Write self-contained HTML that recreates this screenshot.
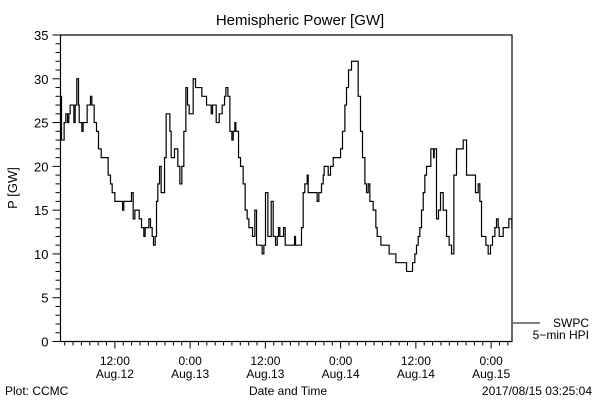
<!DOCTYPE html>
<html><head><meta charset="utf-8"><style>
body{margin:0;background:#fff}
svg text{font-family:"Liberation Sans",sans-serif;fill:#000}
</style></head><body>
<svg id="c" width="600" height="400" xmlns="http://www.w3.org/2000/svg">
<rect width="600" height="400" fill="#fff"/>
<text x="300" y="25" font-size="15" text-anchor="middle">Hemispheric Power [GW]</text>
<text x="17" y="188" font-size="13" text-anchor="middle" transform="rotate(-90 17 188)">P [GW]</text>
<text x="288" y="395" font-size="12" text-anchor="middle">Date and Time</text>
<text x="5" y="395" font-size="12">Plot: CCMC</text>
<text x="592" y="395" font-size="12" text-anchor="end">2017/08/15 03:25:04</text>
<line x1="513" y1="323" x2="540" y2="323" stroke="#000"/>
<text x="589" y="327" font-size="12" text-anchor="end">SWPC</text>
<text x="589" y="339" font-size="12" text-anchor="end">5−min HPI</text>
<g id="axes"></g>
<path id="series" fill="none" stroke="#000" stroke-width="1.2"/>
</svg>
<script>
const times=[0,0.16,0.43,0.58,0.85,1.12,1.33,1.54,1.86,2.13,2.34,2.6,2.87,2.98,3.4,3.61,3.99,4.25,4.57,4.78,5,5.37,5.74,6.06,6.49,7.23,7.6,7.97,8.24,8.67,9.73,9.89,10.1,11.06,11.32,11.59,11.86,12.33,12.55,12.92,13.29,13.5,13.93,14.09,14.35,14.62,14.83,15.1,15.31,15.52,15.79,16.05,16.37,16.59,16.85,17.12,17.44,17.65,17.97,18.18,18.5,18.71,19.03,19.35,19.67,19.99,20.25,20.52,20.89,21.16,21.53,22.22,22.54,23.07,23.29,23.71,24.03,24.24,24.51,24.83,25.1,25.31,25.57,25.78,26.16,26.37,26.69,27.01,27.33,27.54,27.8,27.96,28.18,28.39,28.71,29.13,29.45,29.77,30.04,30.41,30.62,30.83,30.99,31.26,31.9,32.16,32.43,32.69,33.07,33.33,33.6,33.92,34.29,34.56,34.77,34.98,35.35,35.57,35.83,37.11,37.32,37.48,38.17,38.43,38.7,38.96,39.34,39.5,40.82,40.93,41.2,41.62,41.89,42.05,42.53,42.69,43.06,43.49,44.44,44.66,44.97,45.35,45.61,45.93,46.41,47.1,47.47,47.84,48.16,48.54,48.8,49.07,49.33,49.86,50.29,50.5,51.09,52.41,53.48,55.18,56.14,56.51,56.77,57.04,57.3,57.57,57.84,58.1,58.37,59.06,59.22,59.49,59.59,59.96,60.28,60.6,61.03,61.56,61.98,62.36,62.51,62.73,63.15,63.95,64.22,64.75,66.18,66.34,66.61,66.87,67.14,67.51,67.83,68.2,68.57,68.89,69.27,69.53,69.8,69.96,70.59,70.86,71.5,71.76,71.98];
const values=[28,23,23,25,26,25,26,27,27,25,27,30,27,25,24,25,25,27,27,28,27,25,24,22,21,21,19,18,17,16,16,15,16,16,17,14,15,15,14,13,12,13,13,14,13,12,11,12,16,18,20,17,17,21,26,26,24,21,21,22,22,20,18,20,24,29,27,26,26,30,29,29,28,28,27,27,26,27,27,25,25,26,26,27,28,29,28,24,23,24,25,24,24,21,20,18,15,14,13,13,12,12,15,11,11,10,11,17,12,12,16,12,11,12,13,12,12,13,11,11,12,11,11,13,17,18,19,17,17,16,17,18,19,20,20,19,20,21,21,22,24,27,29,31,32,32,28,24,21,18,17,18,16,15,13,12,11,10,9,8,9,10,11,12,13,15,17,19,20,22,22,21,22,14,15,17,15,12,11,10,10,19,22,22,23,19,17,17,18,16,12,12,11,10,11,12,13,14,13,12,13,13,14,14,13,13];
const yTicks=[0,5,10,15,20,25,30,35];
const xTickHours=[8.67,20.67,32.67,44.67,56.67,68.67];
const xTickTimes=["12:00","0:00","12:00","0:00","12:00","0:00"];
const xTickDates=["Aug.12","Aug.13","Aug.13","Aug.14","Aug.14","Aug.15"];
const X0=60.5,X1=512,Y0=341.5,Y1=35,HMAX=72,VMAX=35;
const sx=h=>X0+(h/HMAX)*(X1-X0);
const sy=v=>Y0-(v/VMAX)*(Y0-Y1);
const NS="http://www.w3.org/2000/svg";
const ax=document.getElementById('axes');
function mk(tag,attrs){const e=document.createElementNS(NS,tag);for(const k in attrs)e.setAttribute(k,attrs[k]);ax.appendChild(e);return e;}
const frame=mk('rect',{x:X0,y:Y1,width:X1-X0,height:Y0-Y1,fill:'none',stroke:'#000','stroke-width':1.2});


for(let v=0;v<=VMAX;v++){const major=v%5===0;const t=mk('line',{x1:X0-(major?8:5),x2:X0,y1:sy(v),y2:sy(v),stroke:'#000'});

}
yTicks.forEach(v=>{const t=mk('text',{x:X0-12,y:sy(v)+5,'font-size':13,'text-anchor':'end'});t.textContent=v;

});
for(let h=xTickHours[0]-6*4/3;h<=HMAX;h+=4/3){if(h<0)continue;const major=xTickHours.some(m=>Math.abs(m-h)<0.01);const t=mk('line',{x1:sx(h),x2:sx(h),y1:Y0,y2:Y0+(major?7:4),stroke:'#000'});

}
xTickHours.forEach((h,i)=>{const a=mk('text',{x:sx(h),y:365,'font-size':12,'text-anchor':'middle'});a.textContent=xTickTimes[i];


const b=mk('text',{x:sx(h),y:378,'font-size':12,'text-anchor':'middle'});b.textContent=xTickDates[i];

});
let d='M'+sx(times[0])+','+sy(values[0]);
for(let i=1;i<times.length;i++){d+=' H'+sx(times[i])+' V'+sy(values[i]);}
d+=' H'+X1;
document.getElementById('series').setAttribute('d',d);
</script>
</body></html>
